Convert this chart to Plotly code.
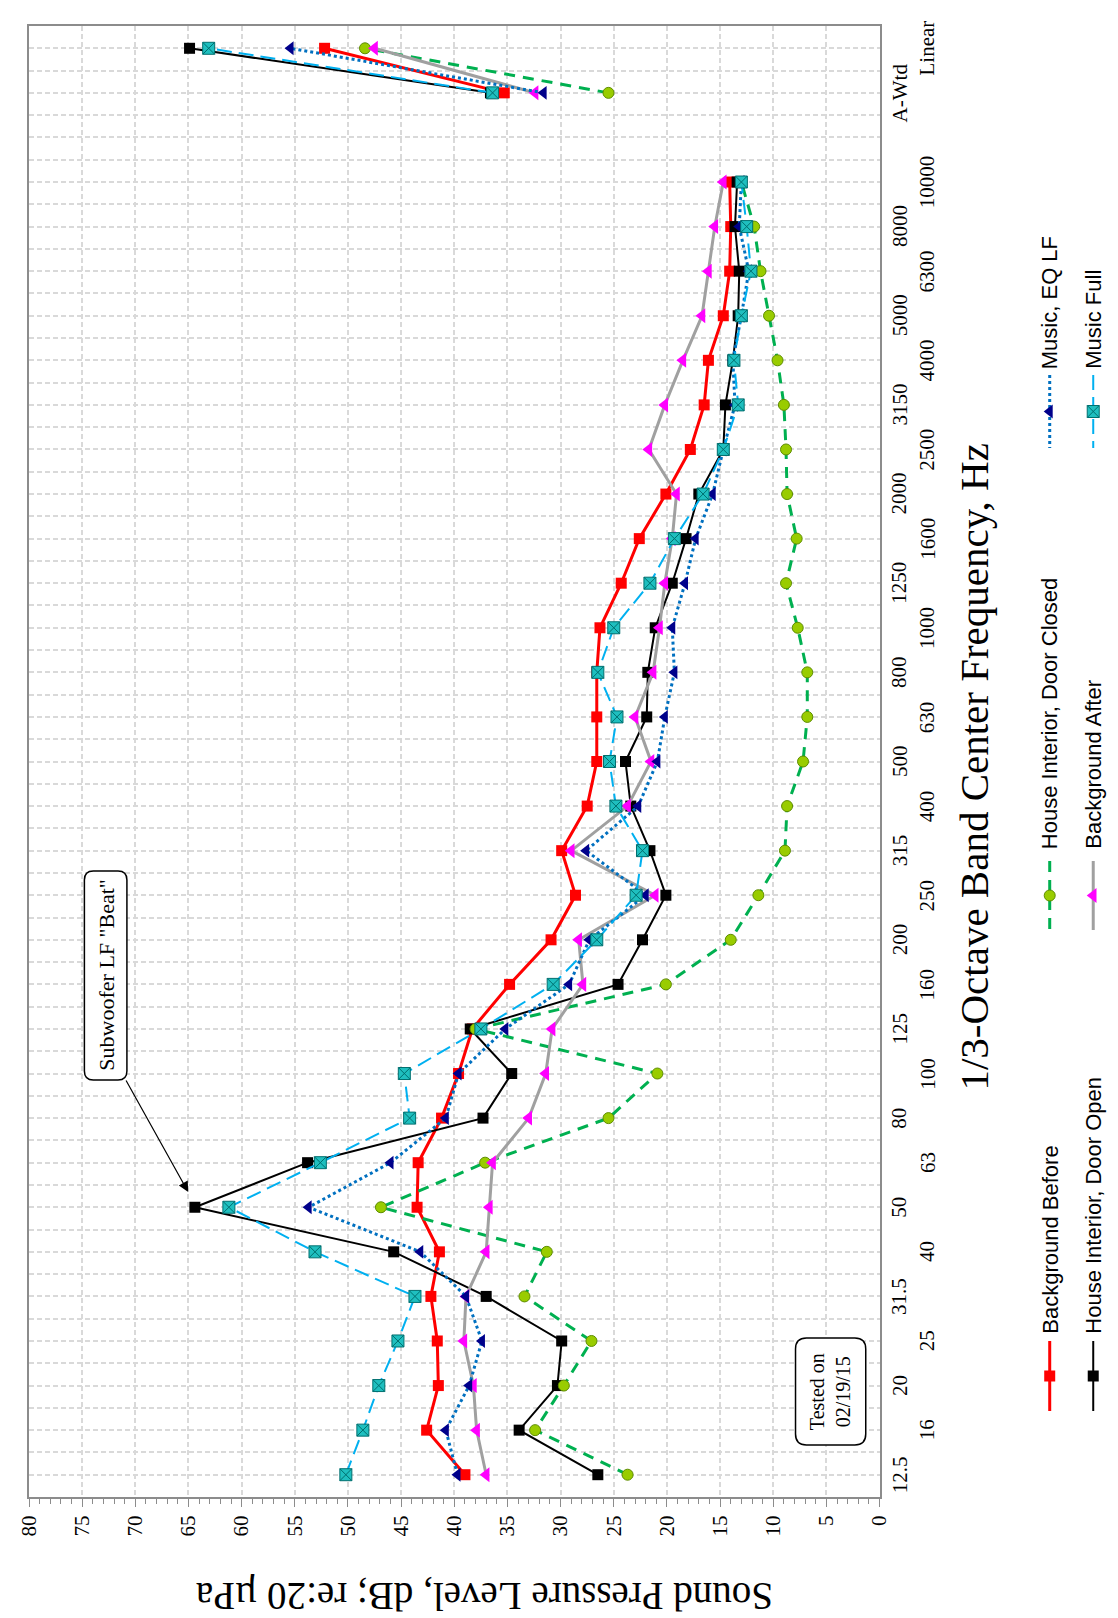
import plotly.graph_objects as go

# ---------------- data ----------------
categories = ["12.5", "16", "20", "25", "31.5", "40", "50", "63", "80", "100",
              "125", "160", "200", "250", "315", "400", "500", "630", "800", "1000",
              "1250", "1600", "2000", "2500", "3150", "4000", "5000", "6300", "8000", "10000",
              "", "A-Wtd", "Linear"]

background_before = [39.0, 42.6, 41.5, 41.6, 42.2, 41.4, 43.5, 43.4, 41.2, 39.6,
                     38.3, 34.8, 30.9, 28.6, 29.9, 27.5, 26.6, 26.6, 26.6, 26.3,
                     24.3, 22.6, 20.1, 17.8, 16.5, 16.1, 14.7, 14.1, 14.0, 14.1,
                     None, 35.3, 52.2]
door_open = [26.5, 33.9, 30.3, 29.9, 37.0, 45.7, 64.4, 53.8, 37.3, 34.6,
             38.5, 24.6, 22.3, 20.1, 21.6, 23.4, 23.9, 21.9, 21.8, 21.1,
             19.5, 18.2, 17.0, 14.7, 14.5, 13.8, 13.3, 13.2, 13.6, 13.4,
             None, 36.6, 64.9]
door_closed = [23.7, 32.4, 29.7, 27.1, 33.4, 31.3, 46.9, 37.1, 25.5, 20.9,
               38.0, 20.1, 14.0, 11.4, 8.9, 8.7, 7.2, 6.8, 6.8, 7.7,
               8.8, 7.8, 8.7, 8.8, 9.0, 9.6, 10.4, 11.2, 11.8, 13.0,
               None, 25.5, 48.4]
background_after = [37.0, 37.9, 38.2, 39.1, 38.9, 37.0, 36.7, 36.4, 33.0, 31.4,
                     30.8, 27.9, 28.3, 21.1, 29.0, 23.7, 21.5, 23.0, 21.3, 20.7,
                     20.2, 19.5, 19.1, 21.7, 20.2, 18.5, 16.7, 16.1, 15.5, 14.7,
                     None, 32.4, 47.5]
music_eq_lf = [39.7, 40.8, 38.6, 37.4, 38.9, 43.2, 53.7, 46.0, 40.8, 39.6,
               35.2, 29.2, 27.3, 22.0, 27.6, 22.7, 20.9, 20.2, 19.3, 19.5,
               18.3, 17.3, 15.7, 14.7, 13.6, 13.8, 13.0, 12.3, 13.2, 13.0,
               None, 31.6, 55.4]
music_full = [50.2, 48.6, 47.1, 45.3, 43.7, 53.1, 61.2, 52.6, 44.2, 44.7,
              37.5, 30.7, 26.6, 22.9, 22.3, 24.8, 25.4, 24.7, 26.5, 25.0,
              21.6, 19.3, 16.6, 14.7, 13.3, 13.7, 13.0, 12.1, 12.5, 13.0,
              None, 36.4, 63.1]

spl_ticks = list(range(0, 81, 5))

# ---------------- layout geometry (pixels) ----------------
W, H = 1118, 1618
ML, MR, MT, MB = 21, 0, 18, 129
PLOT_RIGHT = 881
PW = W - ML - MR
PH = H - MT - MB


def PX(x):
    return (x - ML) / PW


def PY(y):
    return (H - MB - y) / PH


SERIF = "Liberation Serif, Times New Roman, serif"
SANS = "Liberation Sans, Arial, sans-serif"

series = [
    dict(name="Background Before", vals=background_before, line=dict(color="#ff0000", width=3),
         marker=dict(symbol="square", size=11, color="#ff0000")),
    dict(name="House Interior, Door Open", vals=door_open, line=dict(color="#000000", width=2),
         marker=dict(symbol="square", size=11, color="#000000")),
    dict(name="House Interior, Door Closed", vals=door_closed,
         line=dict(color="#00b050", width=3, dash="11px,8px"),
         marker=dict(symbol="circle", size=11, color="#99cc00", line=dict(color="#5e8c00", width=1))),
    dict(name="Background After", vals=background_after, line=dict(color="#a0a0a0", width=3),
         marker=dict(symbol="triangle-left", size=13, color="#ff00ff")),
    dict(name="Music, EQ LF", vals=music_eq_lf, line=dict(color="#0070c0", width=3, dash="dot"),
         marker=dict(symbol="triangle-left", size=12, color="#00008b")),
    dict(name="Music Full", vals=music_full, line=dict(color="#00b0f0", width=2, dash="15px,7px"),
         marker=dict(symbol="square-x", size=12, color="#1fbfbf", line=dict(color="#006f6f", width=1))),
]

ypos = list(range(len(categories)))

fig = go.Figure()
for s in series:
    fig.add_trace(go.Scatter(x=s["vals"], y=ypos, mode="lines+markers", name=s["name"],
                             line=s["line"], marker=s["marker"], connectgaps=False,
                             showlegend=False, xaxis="x", yaxis="y", cliponaxis=False))

# ---------------- manual rotated legend ----------------
legend_cols = [1053, 1097]
legend_rows = [(1333, 1403, 1328), (853, 922, 843), (367, 440, 363)]
for k, s in enumerate(series):
    row = k // 2
    col = k % 2
    xc = legend_cols[col]
    y0, y1, ytext = legend_rows[row]
    fig.add_trace(go.Scatter(x=[xc, xc], y=[y0, y1], mode="lines", line=s["line"],
                             showlegend=False, xaxis="x2", yaxis="y2", hoverinfo="skip"))
    fig.add_trace(go.Scatter(x=[xc], y=[(y0 + y1) / 2], mode="markers", marker=s["marker"],
                             showlegend=False, xaxis="x2", yaxis="y2", hoverinfo="skip"))

annotations = []
for k, s in enumerate(series):
    row = k // 2
    col = k % 2
    annotations.append(dict(text=s["name"], xref="paper", yref="paper",
                            x=PX(legend_cols[col]), y=PY(legend_rows[row][2]),
                            xanchor="center", yanchor="bottom", textangle=-90,
                            showarrow=False, font=dict(family=SANS, size=22, color="#000000")))

# category labels (staggered)
n = 0
for i, lab in enumerate(categories):
    if lab == "":
        continue
    xl = 887 if n % 2 == 0 else 915
    n += 1
    annotations.append(dict(text=lab, xref="paper", yref="y", x=PX(xl), y=i,
                            xanchor="left", yanchor="middle", textangle=-90, showarrow=False,
                            font=dict(family=SERIF, size=21, color="#000000")))

# axis titles
annotations.append(dict(text="Sound Pressure Level, dB; re:20 µPa", xref="paper", yref="paper",
                        x=PX(481), y=PY(1588), xanchor="center", yanchor="middle", textangle=180,
                        showarrow=False, font=dict(family=SERIF, size=39, color="#000000")))
annotations.append(dict(text="1/3-Octave Band Center Frequency, Hz", xref="paper", yref="paper",
                        x=PX(976), y=PY(759), xanchor="center", yanchor="middle", textangle=-90,
                        showarrow=False, font=dict(family=SERIF, size=41, color="#000000")))

# callouts
annotations.append(dict(text="Subwoofer LF \"Beat\"", xref="paper", yref="paper",
                        x=PX(98.5), y=PY(967), xanchor="center", yanchor="middle", textangle=-90,
                        showarrow=False, font=dict(family=SERIF, size=22, color="#000000")))
annotations.append(dict(text="", xref="paper", yref="paper", x=PX(182), y=PY(1184),
                        ax=119 - 182, ay=1071 - 1184, showarrow=True, arrowhead=2,
                        arrowsize=1.7, arrowwidth=1.2, arrowcolor="#000000"))
annotations.append(dict(text="Tested on<br>02/19/15", xref="paper", yref="paper",
                        x=PX(831), y=PY(1384), xanchor="center", yanchor="middle", textangle=-90,
                        showarrow=False, font=dict(family=SERIF, size=20, color="#000000")))


def rrect(x0, y0, x1, y1, r):
    p = lambda x, y: f"{PX(x):.6f},{PY(y):.6f}"
    return (f"M {p(x0 + r, y0)} L {p(x1 - r, y0)} Q {p(x1, y0)} {p(x1, y0 + r)} "
            f"L {p(x1, y1 - r)} Q {p(x1, y1)} {p(x1 - r, y1)} L {p(x0 + r, y1)} "
            f"Q {p(x0, y1)} {p(x0, y1 - r)} L {p(x0, y0 + r)} Q {p(x0, y0)} {p(x0 + r, y0)} Z")


shapes = [
    dict(type="path", xref="paper", yref="paper", path=rrect(77, 863, 120, 1072, 9),
         line=dict(color="#000000", width=1.5), fillcolor="#ffffff", layer="above"),
    dict(type="path", xref="paper", yref="paper", path=rrect(796, 1330, 867, 1437, 11),
         line=dict(color="#000000", width=1.5), fillcolor="#ffffff", layer="above"),
]

grid = dict(showgrid=True, gridcolor="#d9d9d9", gridwidth=1.5, griddash="5px,3px")

fig.update_layout(
    width=W, height=H,
    margin=dict(l=ML, r=MR, t=MT, b=MB, pad=0),
    paper_bgcolor="#ffffff", plot_bgcolor="#ffffff",
    showlegend=False,
    xaxis=dict(domain=[0, PX(PLOT_RIGHT)], range=[80, 0], tickmode="array", tickvals=spl_ticks,
               ticktext=[str(v) for v in spl_ticks], tickangle=-90, ticks="outside", ticklen=8,
               tickwidth=1, tickcolor="#8c8c8c",
               minor=dict(dtick=1, tick0=0, ticks="outside", ticklen=5, tickcolor="#8c8c8c", showgrid=False),
               showline=True, linecolor="#8c8c8c", linewidth=2, mirror=True, zeroline=False,
               tickfont=dict(family=SERIF, size=21, color="#000000"), anchor="y", **grid),
    yaxis=dict(range=[-0.5, len(categories) - 0.5], tick0=0, dtick=0.5, showticklabels=False,
               ticks="", showline=True, linecolor="#8c8c8c", linewidth=2, mirror=True,
               zeroline=False, anchor="x", **grid),
    xaxis2=dict(domain=[PX(1020), 1], range=[1020, W], visible=False, anchor="y2"),
    yaxis2=dict(domain=[0, 1], range=[H - MB, MT], visible=False, anchor="x2"),
    annotations=annotations,
    shapes=shapes,
)

fig.write_html("out.html")
